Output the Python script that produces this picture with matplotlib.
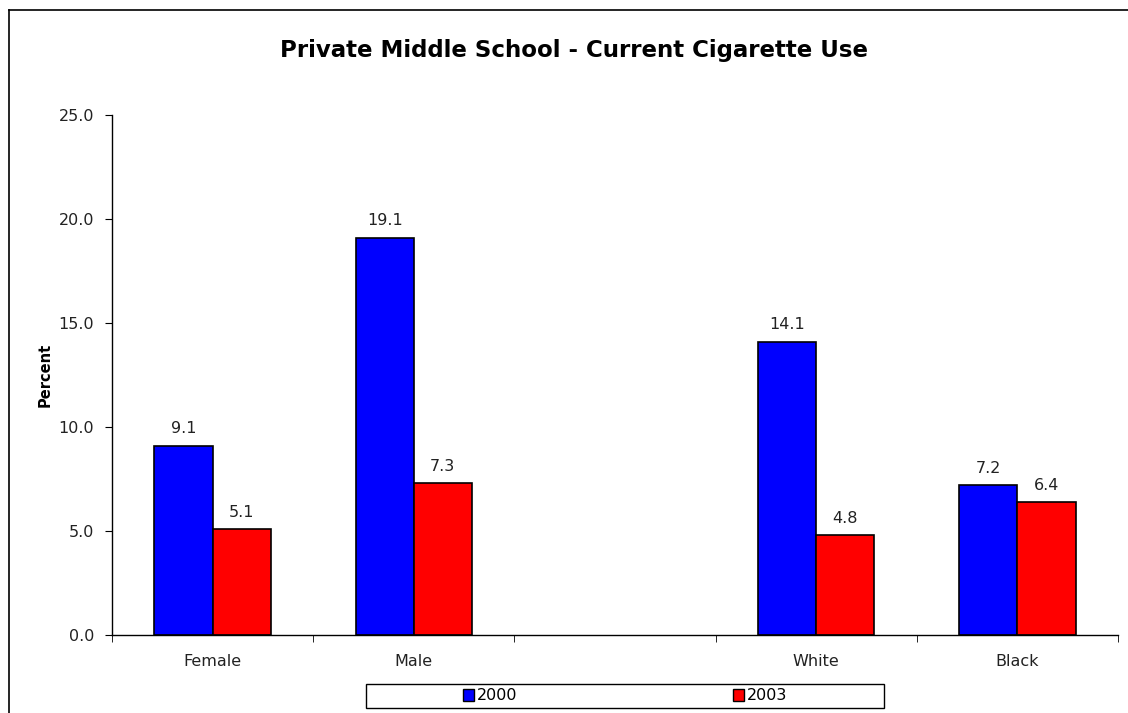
import matplotlib.pyplot as plt
from matplotlib.lines import Line2D
from matplotlib.patches import Patch, Rectangle

categories = ['Female', 'Male', '', 'White', 'Black']
values_2000 = [9.1, 19.1, None, 14.1, 7.2]
values_2003 = [5.1, 7.3, None, 4.8, 6.4]
series_names = ['2000', '2003']
colors = ['#0000FF', '#FF0000']

W, H = 1128, 713
fig = plt.figure(figsize=(W / 100, H / 100), dpi=100)

# outer chart frame (right and bottom edges are cropped in the original)
fig.add_artist(Line2D([9 / W, 9 / W], [0, 1 - 10 / H], color='black', lw=1.2))
fig.add_artist(Line2D([9 / W, 1], [1 - 10 / H, 1 - 10 / H], color='black', lw=1.2))

ax = fig.add_axes([112 / W, (H - 635) / H, (1118 - 112) / W, (635 - 115) / H])

width = 0.289
for i, cat in enumerate(categories):
    for j, vals in enumerate([values_2000, values_2003]):
        v = vals[i]
        if v is None:
            continue
        x = i + (j - 0.5) * width
        ax.bar(x, v, width=width, color=colors[j], edgecolor='black', linewidth=1.2)
        ax.text(x, v + 0.45, f'{v:.1f}', ha='center', va='bottom', fontsize=11.5,
                color='#222222')

ax.set_xlim(-0.5, len(categories) - 0.5)
ax.set_ylim(0, 25)
ax.set_yticks([0, 5, 10, 15, 20, 25])
ax.set_yticklabels([f'{t:.1f}' for t in [0, 5, 10, 15, 20, 25]], fontsize=11.5,
                   color='#222222')
ax.set_xticks(range(len(categories)))
ax.set_xticklabels(categories, fontsize=11.5, color='#222222')
ax.tick_params(axis='x', length=0, pad=14)
ax.set_xticks([i - 0.5 for i in range(len(categories) + 1)], minor=True)
ax.tick_params(axis='x', which='minor', length=5, direction='out')
ax.tick_params(axis='y', length=5, direction='out', pad=8)

for side in ['top', 'right']:
    ax.spines[side].set_visible(False)
ax.spines['left'].set_linewidth(1)
ax.spines['bottom'].set_linewidth(1)

ax.set_ylabel('Percent', fontsize=10.5, fontweight='bold', labelpad=4)
fig.text(574 / W, 1 - 50 / H, 'Private Middle School - Current Cigarette Use',
         ha='center', va='center', fontsize=16.5, fontweight='bold')

# legend box
fig.add_artist(Rectangle((366 / W, (H - 708) / H), (884 - 366) / W, 24 / H,
                         transform=fig.transFigure, facecolor='white',
                         edgecolor='black', lw=1))
handles = [Patch(facecolor=c, edgecolor='black', lw=1) for c in colors]
fig.legend(handles, series_names, loc='center', bbox_to_anchor=(625 / W, 1 - 696 / H),
           ncol=2, frameon=False, fontsize=11.5, handlelength=0.7, handleheight=0.7,
           handletextpad=0.15, columnspacing=13.5, borderpad=0)

fig.savefig('out.png', dpi=100)
